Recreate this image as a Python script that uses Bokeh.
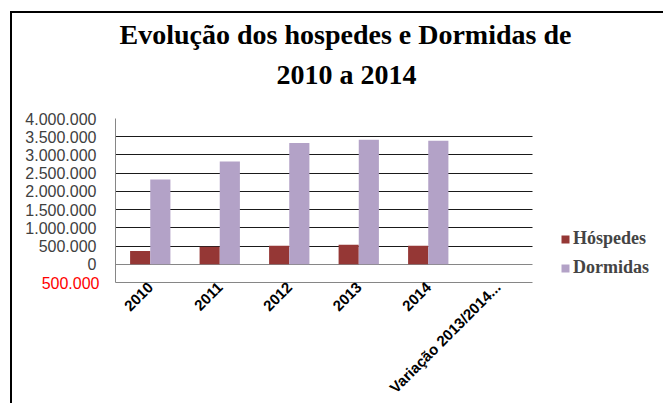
import math
from bokeh.plotting import figure
from bokeh.models import (Range1d, FixedTicker, Grid, Legend, LegendItem,
                          ColumnDataSource, Title, LinearAxis)
from bokeh.transform import dodge
from bokeh.embed import file_html
from bokeh.resources import INLINE

# ---- data ----
categories = ["2010", "2011", "2012", "2013", "2014", "Variação 2013/2014..."]
hospedes = [365000, 483000, 511000, 538000, 511000, float("nan")]
dormidas = [2324000, 2817000, 3327000, 3418000, 3390000, float("nan")]
y_ticks = [-500000, 0, 500000, 1000000, 1500000, 2000000, 2500000, 3000000, 3500000, 4000000]
y_tick_labels = ["500.000", "0", "500.000", "1.000.000", "1.500.000", "2.000.000",
                 "2.500.000", "3.000.000", "3.500.000", "4.000.000"]
title_lines = ["Evolução dos hospedes e Dormidas de", "2010 a 2014"]
series_names = ["Hóspedes", "Dormidas"]
colors = ["#953735", "#B3A2C7"]

idx = list(range(len(categories)))
src = ColumnDataSource(dict(x=idx, h=hospedes, d=dormidas))

W, H = 653, 392
LEFT, RIGHT, TOP, BOTTOM = 103, 5, 105, 122
cat_px = 69.5                      # pixel width of one category slot
frame_w = W - LEFT - RIGHT
x_start = -0.5
x_end = x_start + frame_w / cat_px   # extra room on the right holds the legend
cat_bounds = (-0.5, len(categories) - 0.5)

p = figure(x_range=Range1d(x_start, x_end), y_range=Range1d(y_ticks[0], y_ticks[-1]),
           width=W, height=H, output_backend="svg", toolbar_location=None,
           min_border_left=LEFT, min_border_right=RIGHT, min_border_top=TOP,
           min_border_bottom=BOTTOM, margin=(11, 0, 0, 10))
p.outline_line_color = None
p.background_fill_color = "white"
p.border_fill_color = "white"
p.styles = {"border-left": "2px solid black", "border-top": "2px solid black"}

r1 = p.vbar(x=dodge("x", -0.145), top="h", width=0.29, source=src,
            fill_color=colors[0], line_color=None)
r2 = p.vbar(x=dodge("x", 0.145), top="d", width=0.29, source=src,
            fill_color=colors[1], line_color=None)

# grids
p.xgrid.grid_line_color = None
p.ygrid.ticker = FixedTicker(ticks=y_ticks[2:-1])
p.ygrid.grid_line_color = "#1a1a1a"
p.ygrid.cross_bounds = cat_bounds
p.add_layout(Grid(dimension=1, ticker=FixedTicker(ticks=[0, y_ticks[-1]]),
                  grid_line_color="#868686", cross_bounds=cat_bounds))

label_font = "Liberation Sans"
# inner y axis: the negative tick, in red
red_axis = p.left[0]
red_axis.ticker = FixedTicker(ticks=y_ticks[:1])
red_axis.major_label_overrides = {y_ticks[0]: y_tick_labels[0]}
red_axis.major_tick_out = 0
red_axis.major_tick_in = 0
red_axis.minor_tick_line_color = None
red_axis.axis_line_color = "#868686"
red_axis.major_label_standoff = 16
red_axis.major_label_text_font = label_font
red_axis.major_label_text_font_size = "16px"
red_axis.major_label_text_color = "#FF0000"

# outer y axis: the other ticks, shifted back over the inner one
black_axis = LinearAxis(ticker=FixedTicker(ticks=y_ticks[1:]),
                        major_label_overrides={t: l for t, l in zip(y_ticks[1:], y_tick_labels[1:])},
                        major_tick_out=0, major_tick_in=0, minor_tick_line_color=None,
                        axis_line_color=None, major_label_standoff=-58,
                        major_label_text_font=label_font, major_label_text_font_size="16px",
                        major_label_text_color="#404040")
p.add_layout(black_axis, "left")

# x axis (category positions)
xa = p.below[0]
xa.ticker = FixedTicker(ticks=idx)
xa.major_label_overrides = {i: c for i, c in zip(idx, categories)}
xa.bounds = cat_bounds
xa.major_label_orientation = math.pi / 4
xa.major_tick_out = 0
xa.major_tick_in = 0
xa.minor_tick_line_color = None
xa.axis_line_color = "#868686"
xa.major_label_text_font = label_font
xa.major_label_text_font_style = "bold"
xa.major_label_text_font_size = "15px"
xa.major_label_text_color = "#000000"
xa.major_label_standoff = 2

# title: spacer nearest the frame, then line 2, then line 1
p.add_layout(Title(text=" ", text_font_size="1px", standoff=23), "above")
p.add_layout(Title(text=title_lines[1], align="left", offset=161, text_font="Liberation Serif",
                   text_font_style="bold", text_font_size="28px", text_color="black",
                   standoff=6), "above")
p.add_layout(Title(text=title_lines[0], align="left", offset=4, text_font="Liberation Serif",
                   text_font_style="bold", text_font_size="28px", text_color="black",
                   standoff=7), "above")

legend = Legend(items=[LegendItem(label=series_names[0], renderers=[r1]),
                       LegendItem(label=series_names[1], renderers=[r2])],
                location=(445, 4), border_line_color=None, background_fill_alpha=0,
                label_text_font="Liberation Serif", label_text_font_style="bold",
                label_text_font_size="18px", glyph_width=10, glyph_height=10, spacing=8,
                label_standoff=3, padding=0, margin=0)
p.add_layout(legend)

open("out.html", "w").write(file_html(p, INLINE))
